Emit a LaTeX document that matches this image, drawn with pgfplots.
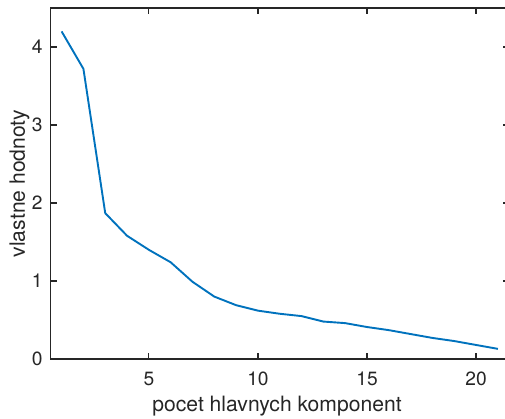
\documentclass[border=0pt]{standalone}
\usepackage{fontspec}
\setmainfont{TeX Gyre Heros}
\usepackage{pgfplots}
\pgfplotsset{compat=1.18}
\definecolor{mblue}{rgb}{0,0.447,0.741}
\definecolor{axgray}{rgb}{0.15,0.15,0.15}
\begin{document}
\begin{tikzpicture}
\begin{axis}[
  at={(0,0)}, anchor=south west,
  scale only axis,
  width=458.1pt, height=351pt,
  xmin=0.5, xmax=21.5, ymin=0, ymax=4.5,
  xtick={5,10,15,20}, ytick={0,1,2,3,4},
  tick align=inside,
  major tick length=6pt,
  axis line style={draw=axgray, line width=1.2pt},
  every tick/.style={draw=axgray, line width=1.2pt},
  /pgf/number format/assume math mode=true,
  tick label style={font=\fontsize{19.2}{23}\selectfont, text=axgray, inner sep=0pt},
  every x tick label/.append style={yshift=-12.7pt},
  every y tick label/.append style={xshift=-8pt},
  xlabel={pocet hlavnych komponent},
  ylabel={vlastne hodnoty},
  every axis x label/.style={at={(axis description cs:0.4941,-0.15014)}, anchor=base, inner sep=0pt, font=\fontsize{21.1}{25}\selectfont, text=axgray},
  every axis y label/.style={at={(axis description cs:-0.0561,0.5)}, rotate=90, anchor=base, inner sep=0pt, font=\fontsize{21.1}{25}\selectfont, text=axgray},
]
\addplot[mblue, line width=1.9pt, line join=round] coordinates {
(1,4.20) (2,3.72) (3,1.87) (4,1.58) (5,1.40) (6,1.24) (7,0.99) (8,0.80)
(9,0.69) (10,0.62) (11,0.58) (12,0.55) (13,0.48) (14,0.46) (15,0.41)
(16,0.37) (17,0.32) (18,0.27) (19,0.23) (20,0.18) (21,0.13)
};
\end{axis}
\pgfresetboundingbox
\path[use as bounding box] (-50.7pt,-59pt) rectangle (454.3pt,359pt);
\end{tikzpicture}
\end{document}
